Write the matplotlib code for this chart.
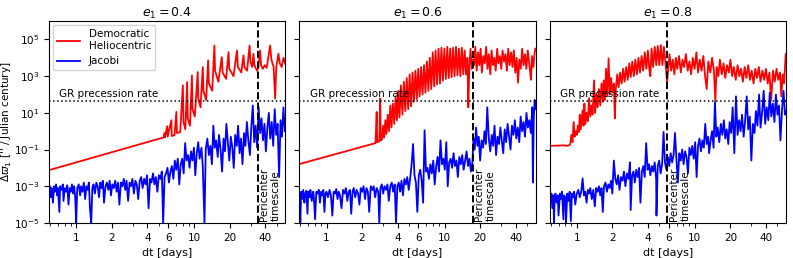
import matplotlib

matplotlib.use("Agg")
import matplotlib.pyplot as plt
import numpy as np
from matplotlib.ticker import FixedLocator, NullFormatter, ScalarFormatter

# values; y given as log10 of the precession error
ECC = [0.4, 0.6, 0.8]
T_PERI = [34.5, 17.3, 5.82]
GR_RATE = 43.0
XTICKS = [1, 2, 4, 6, 10, 20, 40]

dh1_dt = [0.59, 5.5, 5.6, 5.65, 5.9, 5.95, 6.4, 6.45, 6.8, 7.05, 7.12, 7.6, 8.0, 8.1, 8.4,
          8.7, 8.8, 9.2, 9.55, 9.65, 10.1, 10.7, 10.8, 11.3, 11.8, 11.95, 12.6, 13.1, 13.3,
          14.2, 14.8, 15.0, 16.0, 17.1, 17.4, 18.6, 19.5, 19.8, 21.5, 23.0, 23.4, 25.0, 26.1,
          26.6, 28.0, 29.4, 29.9, 31.0, 31.7, 32.3, 34.0, 35.0, 36.1, 36.8, 38.0, 39.5, 41.0,
          43.9, 45.0, 47.0, 48.4, 49.5, 51.6, 53.0, 55.0, 57.0, 58.8]
dh1_lg = [-2.12, -0.34, -0.1, -0.33, 0.27, -0.3, 0.6, -0.26, -0.22, 1.05, -0.1, -0.05, 2.5, 0.5,
          0.1, 2.68, 0.7, 0.3, 3.04, 1.2, 0.8, 3.22, 1.8, 1.3, 3.5, 2.2, 1.7, 3.86, 2.6, 2.2,
          4.67, 3.3, 2.7, 4.04, 3.2, 2.85, 4.31, 3.4, 3.0, 4.4, 3.5, 3.2, 4.13, 3.5, 3.3, 4.67,
          3.8, 3.5, 4.22, 3.6, 3.3, 3.5, 4.4, 3.6, 3.4, 3.6, 3.45, 4.67, 3.9, 3.5, 1.78, 3.5,
          4.22, 3.7, 3.5, 4.0, 3.7]

jac1_dt = [0.59, 0.6, 0.61, 0.62, 0.635, 0.65, 0.66, 0.675, 0.69, 0.7, 0.72, 0.73, 0.75, 0.77,
           0.78, 0.8, 0.82, 0.84, 0.86, 0.88, 0.9, 0.92, 0.94, 0.96, 0.98, 1.0, 1.02, 1.05,
           1.08, 1.1, 1.13, 1.16, 1.19, 1.22, 1.25, 1.28, 1.31, 1.34, 1.37, 1.4, 1.44, 1.48,
           1.52, 1.56, 1.6, 1.64, 1.68, 1.72, 1.77, 1.82, 1.87, 1.92, 1.97, 2.02, 2.08, 2.14,
           2.2, 2.26, 2.32, 2.39, 2.46, 2.53, 2.6, 2.67, 2.75, 2.83, 2.91, 2.99, 3.08, 3.17,
           3.26, 3.35, 3.45, 3.55, 3.65, 3.76, 3.87, 3.98, 4.1, 4.22, 4.34, 4.47, 4.6, 4.73,
           4.87, 5.01, 5.16, 5.31, 5.45, 5.6, 5.76, 5.93, 6.1, 6.28, 6.46, 6.65, 6.84, 7.04,
           7.25, 7.46, 7.68, 7.9, 8.13, 8.37, 8.61, 8.86, 9.12, 9.38, 9.65, 9.93, 10.2, 10.5,
           10.8, 11.1, 11.5, 11.8, 12.2, 12.5, 12.9, 13.3, 13.7, 14.1, 14.5, 14.9, 15.3, 15.8,
           16.2, 16.7, 17.2, 17.7, 18.2, 18.7, 19.3, 19.8, 20.4, 21.0, 21.6, 22.2, 22.9, 23.5,
           24.2, 24.9, 25.6, 26.4, 27.1, 27.9, 28.7, 29.6, 30.4, 31.3, 32.2, 33.1, 34.1, 35.1,
           36.1, 37.1, 38.2, 39.3, 40.4, 41.6, 42.8, 44.0, 45.3, 46.6, 48.0, 49.4, 50.8, 52.3,
           53.8, 55.3, 56.9, 58.5]
jac1_lg = [-3.3, -3.0, -3.6, -3.1, -3.9, -3.0, -3.3, -2.9, -3.5, -3.1, -4.4, -3.0, -3.2, -2.9,
           -3.8, -3.1, -3.3, -2.95, -4.0, -3.1, -3.3, -2.9, -3.4, -3.0, -3.6, -5.0, -3.1, -2.9,
           -3.5, -3.0, -3.3, -2.8, -3.7, -3.0, -3.2, -2.8, -4.3, -5.0, -3.1, -2.9, -3.4, -2.8,
           -3.0, -3.6, -2.8, -3.1, -2.7, -3.9, -3.0, -2.8, -3.2, -2.7, -3.5, -2.9, -3.1, -2.7,
           -3.3, -2.8, -4.0, -2.8, -3.0, -2.6, -3.2, -2.7, -3.8, -2.8, -3.0, -2.6, -3.4, -2.7,
           -2.9, -3.7, -2.7, -2.5, -3.1, -2.6, -2.9, -2.4, -4.2, -2.6, -2.8, -2.3, -2.9, -2.5,
           -3.3, -2.4, -2.6, -2.2, -5.0, -2.5, -2.3, -2.0, -2.8, -2.2, -1.9, -2.6, -1.6, -2.1,
           -1.5, -2.9, -1.8, -1.5, -2.3, -0.65, -1.6, -1.3, -2.0, -1.1, -1.6, -0.9, -2.4, -1.2,
           -0.6, -1.5, -0.9, -1.9, -5.0, -1.0, -0.4, -1.3, -0.8, -1.8, 0.3, -0.9, -0.5, -1.4,
           -0.2, -1.0, -2.2, -0.4, -1.1, 0.4, -0.7, -1.6, -0.3, -0.9, -2.0, -0.2, -0.8, 0.3,
           -1.2, -0.4, -1.8, -0.1, -0.8, 0.5, -0.5, -1.3, 0.2, 1.4, -0.6, 0.3, -0.9, 1.3,
           -0.1, 0.7, -0.5, 0.4, -1.1, 0.2, 1.0, -0.4, 0.5, -0.8, 1.2, -0.2, 0.4, -2.5,
           0.6, -0.3, 1.3, 0.0]

dh2_dt = [0.59, 2.6, 2.66, 2.69, 2.8, 2.85, 2.88, 2.95, 3.02, 3.08, 3.15, 3.22, 3.3, 3.38,
          3.47, 3.55, 3.65, 3.75, 3.85, 3.95, 4.05, 4.15, 4.27, 4.4, 4.52, 4.65, 4.78, 4.92,
          5.06, 5.2, 5.35, 5.5, 5.66, 5.82, 5.98, 6.15, 6.33, 6.51, 6.7, 6.89, 7.09, 7.29,
          7.5, 7.72, 7.94, 8.17, 8.4, 8.64, 8.89, 9.15, 9.41, 9.68, 9.96, 10.25, 10.55,
          10.85, 11.16, 11.48, 11.81, 12.15, 12.5, 12.86, 13.23, 13.61, 14.0, 14.4, 14.8,
          15.2, 15.6, 15.9, 16.2, 16.6, 17.0, 17.4, 17.8, 18.2, 18.7, 19.2, 19.7, 20.2, 20.7,
          21.3, 21.9, 22.5, 23.1, 23.7, 24.4, 25.0, 25.7, 26.4, 27.1, 27.9, 28.6, 29.4, 30.2,
          31.0, 31.9, 32.8, 33.7, 34.6, 35.6, 36.6, 37.6, 38.6, 39.7, 40.8, 41.9, 43.0, 44.2,
          45.4, 46.7, 48.0, 49.3, 50.7, 52.1, 53.5, 54.0, 55.0, 56.5, 58.0, 58.8]
dh2_lg = [-1.79, -0.65, 1.05, -0.6, -0.55, 1.78, -0.5, -0.45, 0.3, -0.35, 0.6, -0.15, 0.9, 0.0,
          1.4, 0.2, 1.5, 0.4, 1.9, 0.6, 2.2, 0.75, 2.5, 0.9, 2.7, 1.1, 2.9, 1.2, 3.1, 1.35, 3.2,
          1.6, 3.3, 1.75, 3.4, 1.9, 3.5, 2.0, 3.6, 2.1, 3.8, 2.2, 4.0, 2.3, 4.3, 2.45, 4.4, 2.55,
          4.5, 2.6, 4.55, 2.75, 4.5, 2.85, 4.6, 2.9, 4.5, 2.95, 4.55, 3.0, 4.6, 3.05, 4.5, 3.0,
          4.55, 3.1, 4.4, 3.1, 4.0, 1.3, 3.5, 4.5, 3.4, 3.9, 3.6, 4.6, 3.3, 4.3, 3.6, 4.5, 3.2,
          4.1, 3.7, 4.6, 3.4, 4.2, 3.1, 4.4, 3.6, 4.0, 3.3, 4.5, 3.7, 4.1, 3.4, 4.4, 3.8, 4.2,
          3.3, 4.5, 3.6, 4.3, 3.5, 4.4, 3.2, 4.0, 2.65, 3.9, 3.4, 4.5, 3.6, 4.2, 3.4, 4.4, 3.7,
          3.0, 2.8, 4.1, 3.5, 4.3, 4.5]

jac2_dt = [0.59, 0.6, 0.61, 0.62, 0.635, 0.65, 0.66, 0.675, 0.69, 0.7, 0.72, 0.73, 0.75, 0.77,
           0.78, 0.8, 0.82, 0.84, 0.86, 0.88, 0.9, 0.92, 0.94, 0.96, 0.98, 1.0, 1.03, 1.06,
           1.09, 1.12, 1.15, 1.18, 1.21, 1.24, 1.27, 1.3, 1.34, 1.38, 1.42, 1.46, 1.5, 1.54,
           1.58, 1.62, 1.66, 1.7, 1.75, 1.8, 1.85, 1.9, 1.95, 2.0, 2.06, 2.12, 2.18, 2.24, 2.3,
           2.37, 2.44, 2.51, 2.58, 2.66, 2.74, 2.8, 2.86, 2.94, 3.02, 3.1, 3.19, 3.28, 3.37,
           3.47, 3.57, 3.67, 3.78, 3.88, 3.98, 4.09, 4.2, 4.32, 4.44, 4.57, 4.7, 4.83, 4.97,
           5.11, 5.26, 5.41, 5.56, 5.72, 5.88, 6.05, 6.22, 6.4, 6.58, 6.77, 6.96, 7.16, 7.37,
           7.58, 7.8, 8.02, 8.25, 8.49, 8.73, 8.98, 9.24, 9.5, 9.77, 10.05, 10.34, 10.64,
           10.94, 11.26, 11.58, 11.91, 12.25, 12.6, 12.96, 13.33, 13.71, 14.11, 14.51, 14.93,
           15.36, 15.8, 16.25, 16.72, 17.2, 17.6, 18.0, 18.5, 19.0, 19.5, 20.0, 20.6, 21.2,
           21.8, 22.4, 23.0, 23.7, 24.4, 25.1, 25.8, 26.5, 27.3, 28.1, 28.9, 29.7, 30.5, 31.4,
           32.3, 33.2, 34.2, 35.2, 36.2, 37.2, 38.3, 39.4, 40.5, 41.7, 42.9, 44.1, 45.4, 46.7,
           48.0, 49.4, 50.8, 52.3, 53.8, 55.3, 56.0, 57.0, 58.0, 58.8]
jac2_lg = [-3.6, -5.0, -3.3, -3.7, -3.2, -3.9, -3.4, -3.25, -4.5, -3.3, -3.6, -3.2, -3.8, -3.3,
           -3.5, -4.8, -3.3, -3.4, -3.2, -3.9, -3.3, -3.5, -3.2, -4.4, -3.4, -3.3, -3.6, -3.2,
           -3.5, -4.6, -3.3, -3.4, -3.15, -3.7, -3.3, -3.5, -4.2, -3.2, -3.4, -3.1, -3.8, -3.3,
           -3.2, -4.5, -3.3, -3.1, -3.6, -3.2, -3.4, -4.0, -3.1, -3.3, -3.0, -3.7, -3.1, -3.3,
           -4.4, -3.0, -3.2, -3.0, -3.6, -3.1, -3.3, -5.0, -3.1, -2.9, -3.4, -3.0, -3.2, -2.9,
           -3.8, -3.0, -2.8, -3.3, -2.9, -5.0, -3.0, -2.8, -3.3, -2.7, -3.5, -2.6, -2.9, -2.5,
           -3.2, -2.6, -1.8, -0.7, -2.4, -2.8, -4.4, -2.4, -2.1, -2.7, -3.9, 0.05, -2.2, -2.0,
           -2.6, -1.8, -2.3, -1.6, -2.9, -1.9, -1.4, -2.2, -0.5, -1.8, -1.5, -2.1, -0.6, -3.0,
           -1.7, -1.5, -2.0, -1.2, -1.9, -1.6, -2.5, -1.4, -1.8, -1.3, -2.1, -1.6, -1.1, -1.9,
           -1.5, -2.2, -1.7, -0.4, -1.0, 0.2, -0.8, -0.3, -1.6, -0.5, -0.9, 0.0, -0.7, 1.3,
           -0.4, -1.1, -0.2, -0.8, 0.3, -1.3, -0.3, -0.7, 0.2, -0.5, -1.2, 0.1, -0.6, 0.4,
           -0.3, -1.0, 0.3, -0.2, 0.6, -0.4, 0.2, -0.6, 0.8, 0.0, 0.5, -0.3, 1.0, 0.2, 0.6,
           -0.1, 1.3, -2.8, 0.8, 1.7, 1.2]

dh3_dt = [0.59, 0.7, 0.78, 0.82, 0.86, 0.88, 0.9, 0.92, 0.94, 0.96, 0.98, 1.0, 1.02, 1.04,
          1.06, 1.08, 1.1, 1.12, 1.14, 1.16, 1.18, 1.21, 1.24, 1.27, 1.3, 1.33, 1.36, 1.4,
          1.43, 1.46, 1.5, 1.54, 1.58, 1.62, 1.66, 1.69, 1.73, 1.77, 1.81, 1.86, 1.9, 1.95,
          2.0, 2.06, 2.1, 2.14, 2.2, 2.26, 2.33, 2.4, 2.47, 2.54, 2.62, 2.7, 2.78, 2.86, 2.95,
          3.04, 3.13, 3.23, 3.33, 3.43, 3.54, 3.65, 3.76, 3.88, 4.0, 4.12, 4.2, 4.3, 4.43,
          4.57, 4.71, 4.85, 5.0, 5.15, 5.31, 5.47, 5.64, 5.82, 5.95, 6.1, 6.3, 6.5, 6.7, 6.9,
          7.1, 7.35, 7.6, 7.85, 8.1, 8.4, 8.7, 9.0, 9.3, 9.6, 9.95, 10.3, 10.65, 11.0, 11.4,
          11.8, 12.2, 12.6, 13.0, 13.5, 14.0, 14.5, 14.9, 15.3, 15.8, 16.3, 16.9, 17.5, 18.1,
          18.7, 19.4, 20.0, 20.7, 21.4, 22.2, 23.0, 23.8, 24.6, 25.5, 26.4, 27.3, 28.3, 29.3,
          30.3, 31.4, 32.5, 33.6, 34.8, 36.0, 37.3, 38.6, 40.0, 41.4, 42.8, 44.3, 45.9, 47.5,
          49.2, 50.9, 52.7, 54.0, 55.5, 57.0, 58.8]
dh3_lg = [-0.8, -0.78, -0.77, -0.8, -0.77, -0.7, -0.2, -0.6, 0.5, -0.3, 0.0, -0.2, 0.3, -0.05,
          0.9, 0.1, 0.6, 1.14, 0.3, 1.5, 0.4, 1.0, 0.55, 1.8, 0.8, 1.4, 0.9, 2.77, 1.0, 2.0, 1.3,
          2.3, 1.4, 2.6, 1.6, 2.77, 1.7, 3.4, 1.9, 3.97, 2.0, 2.9, 2.1, 2.6, 0.7, 2.3, 3.1, 2.4,
          3.2, 2.6, 3.4, 2.7, 3.5, 2.8, 3.7, 2.95, 3.8, 3.0, 3.9, 3.1, 4.0, 3.2, 4.1, 3.3, 4.3,
          3.4, 4.4, 3.35, 3.0, 4.5, 3.5, 4.6, 3.6, 4.65, 3.6, 4.7, 3.6, 4.6, 3.7, 2.68, 3.4,
          4.2, 3.3, 3.9, 3.1, 4.0, 3.4, 4.1, 3.2, 3.9, 3.5, 4.2, 3.3, 3.8, 3.1, 4.0, 3.4, 4.3,
          3.2, 3.9, 3.3, 4.1, 3.0, 2.3, 3.8, 3.2, 4.0, 3.3, 1.68, 3.5, 3.0, 3.9, 3.1, 3.7, 2.9,
          3.6, 3.2, 3.9, 3.0, 3.5, 2.8, 3.6, 3.0, 3.4, 2.7, 3.5, 2.9, 3.6, 2.8, 3.3, 2.6, 3.4,
          2.9, 3.5, 2.7, 3.3, 2.8, 3.4, 2.6, 3.2, 1.7, 3.3, 2.7, 3.4, 2.8, 3.2, 1.9, 3.1, 2.6,
          4.2]

jac3_dt = [0.59, 0.6, 0.61, 0.62, 0.635, 0.64, 0.65, 0.66, 0.675, 0.69, 0.7, 0.72, 0.73, 0.75,
           0.77, 0.78, 0.8, 0.81, 0.83, 0.85, 0.87, 0.89, 0.91, 0.93, 0.95, 0.97, 1.0, 1.03,
           1.06, 1.09, 1.12, 1.15, 1.18, 1.21, 1.24, 1.27, 1.3, 1.34, 1.38, 1.42, 1.46, 1.5,
           1.54, 1.58, 1.62, 1.66, 1.7, 1.75, 1.8, 1.85, 1.9, 1.95, 2.0, 2.06, 2.12, 2.18, 2.24,
           2.3, 2.37, 2.44, 2.51, 2.58, 2.66, 2.74, 2.82, 2.86, 2.94, 3.02, 3.1, 3.19, 3.28,
           3.37, 3.46, 3.56, 3.66, 3.76, 3.87, 3.98, 4.09, 4.2, 4.32, 4.44, 4.57, 4.7, 4.73,
           4.85, 4.99, 5.13, 5.28, 5.43, 5.58, 5.74, 5.9, 6.07, 6.24, 6.42, 6.6, 6.79, 6.98,
           7.18, 7.38, 7.59, 7.81, 8.03, 8.26, 8.5, 8.74, 8.99, 9.25, 9.51, 9.78, 10.06, 10.35,
           10.64, 10.95, 11.26, 11.58, 11.91, 12.25, 12.6, 12.96, 13.2, 13.6, 14.0, 14.4, 14.8,
           15.2, 15.6, 16.1, 16.6, 17.1, 17.6, 18.1, 18.6, 19.2, 19.7, 20.3, 20.9, 21.6, 22.3,
           23.0, 23.7, 24.4, 25.1, 25.9, 26.6, 27.5, 28.3, 29.2, 30.1, 31.0, 32.0, 32.9, 33.9,
           35.0, 36.0, 37.1, 38.3, 39.4, 40.6, 41.9, 43.1, 44.4, 45.8, 47.2, 48.6, 50.1, 51.6,
           53.1, 54.8, 56.4, 58.0, 58.8]
jac3_lg = [-3.5, -3.8, -3.4, -4.2, -3.5, -5.0, -3.6, -3.4, -3.9, -3.5, -4.6, -3.4, -3.7, -3.3,
           -4.8, -3.5, -3.6, -5.0, -3.4, -3.8, -3.3, -4.9, -3.4, -3.6, -3.3, -4.0, -3.4, -3.2,
           -3.6, -3.3, -2.57, -3.5, -3.3, -3.9, -3.2, -3.4, -3.1, -3.7, -3.2, -4.1, -3.1, -3.3,
           -3.0, -3.5, -3.1, -4.4, -3.0, -2.8, -3.3, -2.9, -3.1, -2.7, -3.4, -1.6, -2.6, -2.9,
           -2.4, -3.2, -2.5, -2.7, -2.2, -3.0, -2.3, -2.6, -1.7, -4.3, -2.4, -2.2, -2.8, -2.1,
           -2.5, -2.0, -3.9, -2.2, -1.9, -2.5, -0.65, -2.1, -1.8, -2.4, -1.9, -2.2, -1.7, -2.6,
           -4.6, -1.9, -1.6, -2.3, -1.8, -0.04, -1.7, -2.1, -1.4, -1.9, -1.2, -1.7, -1.3, -0.1,
           -1.5, -2.8, -1.2, -1.6, -1.0, -1.8, -1.1, -1.4, -2.3, -0.9, -1.3, -0.8, -1.5, -0.6,
           -2.5, -0.8, -0.4, -1.1, -0.5, -0.9, 0.4, -0.7, -0.3, -1.2, -0.5, 0.0, -0.9, 1.6,
           -0.3, 0.2, -0.6, 0.4, -0.2, 0.6, -0.4, 0.1, -0.7, 0.5, -0.1, 1.3, -1.2, 1.9, -0.2,
           0.6, 0.0, 0.9, -0.3, 0.5, 1.9, 0.1, 0.8, -1.6, 0.4, -0.1, 1.1, 0.3, 2.0, 0.2, 1.0,
           2.2, 0.4, 1.3, 0.6, 2.1, 0.8, 1.5, 0.5, 2.0, 0.9, 1.4, -0.5, 1.2, 2.2, 0.9, 1.1]

dh = [(dh1_dt, dh1_lg), (dh2_dt, dh2_lg), (dh3_dt, dh3_lg)]
jac = [(jac1_dt, jac1_lg), (jac2_dt, jac2_lg), (jac3_dt, jac3_lg)]

fig, axes = plt.subplots(1, 3, figsize=(7.93, 2.58), dpi=100, sharey=True)
fig.subplots_adjust(left=0.062, right=0.991, bottom=0.136, top=0.918, wspace=0.06)

for i, ax in enumerate(axes):
    ax.plot(dh[i][0], 10.0 ** np.array(dh[i][1]), color="red", lw=1.3,
            label="Democratic\nHeliocentric")
    ax.plot(jac[i][0], 10.0 ** np.array(jac[i][1]), color="blue", lw=1.3, label="Jacobi")
    ax.axhline(GR_RATE, color="k", ls=":", lw=1.1)
    ax.axvline(T_PERI[i], color="k", ls="--", lw=1.4)
    ax.text(0.72, GR_RATE * 1.3, "GR precession rate", fontsize=7.5, va="bottom", ha="left")
    ax.text(T_PERI[i] * 1.03, 1.3e-5, "Pericenter\ntimescale", rotation=90, fontsize=7.5,
            va="bottom", ha="left", multialignment="left")
    ax.set_xscale("log")
    ax.set_yscale("log")
    ax.set_xlim(0.59, 59)
    ax.set_ylim(1e-5, 1e6)
    ax.xaxis.set_major_locator(FixedLocator(XTICKS))
    ax.xaxis.set_major_formatter(ScalarFormatter())
    ax.xaxis.set_minor_formatter(NullFormatter())
    ax.set_yticks([1e-5, 1e-3, 1e-1, 1e1, 1e3, 1e5])
    ax.yaxis.set_minor_locator(FixedLocator([]))
    ax.tick_params(labelsize=7.5)
    ax.set_xlabel("dt [days]", fontsize=8)
    ax.set_title(f"$e_1 = {ECC[i]}$", fontsize=9, pad=3)

axes[0].set_ylabel(r"$\Delta\dot{\varpi}_1$ ['' / Julian century]", fontsize=7.5)
axes[0].yaxis.set_label_coords(-0.15, 0.5)
axes[0].legend(loc="upper left", fontsize=7.5, handlelength=2.2, borderaxespad=0.4)

fig.savefig("out.png", dpi=100)
